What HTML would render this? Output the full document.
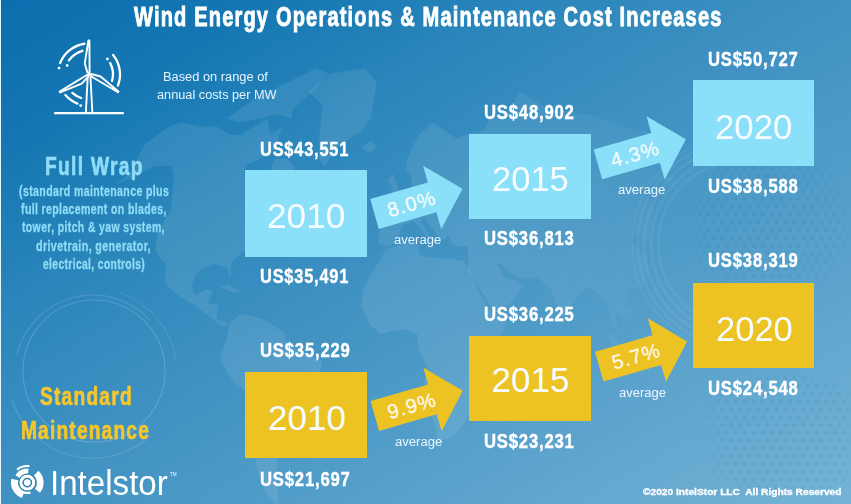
<!DOCTYPE html>
<html><head><meta charset="utf-8"><title>Wind Energy O&amp;M Cost Increases</title>
<style>
html,body{margin:0;padding:0;}
body{width:851px;height:504px;overflow:hidden;font-family:"Liberation Sans",sans-serif;background:#4092c2;}
#c{position:relative;width:851px;height:504px;overflow:hidden;
background:linear-gradient(to bottom right,#0b6eae 0%,#1476b2 15%,#2985ba 30%,#4092c2 50%,#74b3d6 100%);}
.edge{position:absolute;left:0;top:0;width:1px;height:504px;background:#e8f6ff;}
.b{position:absolute;}
.t{position:absolute;white-space:pre;transform-origin:0 50%;font-family:"Liberation Sans",sans-serif;}
svg{position:absolute;left:0;top:0;}
</style></head><body>
<div id="c">
<div class="edge"></div>
<svg width="851" height="504" viewBox="0 0 851 504"><defs><linearGradient id="mf" gradientUnits="userSpaceOnUse" x1="0" y1="0" x2="851" y2="0"><stop offset="0" stop-color="#fff" stop-opacity="1"/><stop offset="0.55" stop-color="#fff" stop-opacity="1"/><stop offset="0.74" stop-color="#fff" stop-opacity="0.45"/><stop offset="0.86" stop-color="#fff" stop-opacity="0"/><stop offset="1" stop-color="#fff" stop-opacity="0"/></linearGradient><mask id="mm" maskUnits="userSpaceOnUse" x="0" y="0" width="851" height="504"><rect width="851" height="504" fill="url(#mf)"/></mask></defs><g fill="#fff" fill-opacity="0.085" stroke="none" mask="url(#mm)"><polygon points="145.9,142.9 169.1,126.6 181.1,122.5 198.8,126.6 217.1,126.6 230.4,134.9 240.6,134.9 268.1,118.2 269.8,134.9 282.1,126.6 274.6,150.8 245.5,166.1 243.6,177.2 257.4,184.4 257.2,198.3 267.4,180.8 274.6,158.5 287.2,158.5 294.2,166.1 295.1,184.4 299.1,194.9 287.3,211.8 276.1,218.3 264.8,224.8 254.2,234.2 245.8,249.5 232.3,261.2 230.0,278.3 226.6,267.0 213.0,264.1 196.0,272.7 192.1,286.7 194.5,294.9 206.4,289.4 212.8,289.4 208.0,303.0 218.4,305.6 216.7,318.9 225.2,321.5 229.4,324.1 222.6,326.8 212.4,318.9 198.5,308.3 190.7,303.0 173.7,292.2 165.3,283.9 165.7,264.1 159.8,258.3 155.6,249.5 157.1,234.2 171.1,208.5 172.9,187.9 173.9,173.5 170.9,166.1 154.7,166.1 132.8,177.2 115.2,184.4 135.4,169.8 136.9,158.5"/><polygon points="227.1,118.2 251.7,100.9 286.6,82.7 316.0,68.6 328.6,73.4 312.4,91.9 292.4,109.6 291.3,118.2 277.0,114.0 261.3,118.2 238.1,122.5"/><polygon points="308.7,91.9 330.8,73.4 365.2,68.6 376.9,82.7 370.7,118.2 362.1,130.8 337.1,146.9 325.0,166.1 318.9,158.5 319.3,134.9 322.8,105.3"/><polygon points="229.4,324.1 241.3,313.6 262.6,318.9 283.8,332.0 288.0,345.0 301.2,350.2 321.2,360.6 321.5,368.5 313.6,384.4 311.0,403.3 297.6,414.5 290.7,434.6 283.9,449.6 276.4,458.9 277.1,474.9 277.9,495.1 278.0,505.6 267.3,495.1 257.4,471.7 253.4,446.6 252.1,425.9 247.6,392.4 233.2,381.7 220.3,360.6 222.1,350.2 226.5,339.8"/><polygon points="361.2,305.6 364.0,286.7 377.4,264.1 386.0,249.5 403.9,243.4 417.8,243.4 420.3,255.4 438.7,258.3 448.9,258.3 463.5,261.2 470.6,269.9 479.2,292.2 491.6,313.6 509.0,313.6 503.4,332.0 490.4,350.2 483.5,363.2 484.6,384.4 471.8,408.9 464.1,423.0 452.4,437.6 438.1,440.5 435.0,425.9 427.7,403.3 424.0,384.4 426.5,365.9 417.8,347.6 417.8,334.6 404.6,329.4 389.2,332.0 380.4,334.6 369.5,324.1"/><polygon points="378.2,243.4 380.9,224.8 394.2,221.6 388.9,208.5 401.6,198.3 411.9,187.9 411.4,177.2 406.2,169.8 407.5,158.5 418.4,134.9 432.8,122.5 457.2,138.9 463.6,134.9 484.1,130.8 492.1,114.0 505.5,114.0 520.3,91.9 549.9,109.6 586.2,114.0 624.1,126.6 660.3,134.9 671.9,146.9 673.7,166.1 668.5,173.5 680.5,194.9 659.8,177.2 643.9,187.9 654.2,208.5 653.0,221.6 647.2,227.9 653.0,246.5 646.0,240.4 635.1,234.2 630.2,240.4 646.3,258.3 649.0,275.5 639.9,286.7 628.0,289.4 626.8,303.0 635.3,313.6 627.6,321.5 615.3,311.0 617.2,326.8 624.5,339.8 612.6,324.1 607.4,303.0 596.6,292.2 589.0,286.7 581.7,292.2 571.1,305.6 568.8,324.1 555.6,303.0 551.3,289.4 538.7,278.3 519.8,278.3 505.9,269.9 500.8,264.1 496.7,264.1 505.1,278.3 516.0,281.1 523.2,286.7 510.3,303.0 493.8,313.6 488.7,303.0 478.6,286.7 468.5,269.9 467.7,246.5 457.8,246.5 451.5,243.4 448.5,234.2 443.3,240.4 436.9,234.2 424.2,218.3 420.7,221.6 429.1,234.2 429.5,240.4 421.0,227.9 413.1,221.6 403.7,224.8 398.0,237.3 394.0,243.4 386.0,246.5"/><polygon points="389.0,201.8 399.8,198.3 398.0,187.9 393.0,173.5 387.8,180.8 392.8,187.9"/><polygon points="361.5,146.9 371.2,140.9 376.7,146.9 368.5,152.8"/><polygon points="490.4,411.7 497.1,408.9 506.2,384.4 504.7,376.4 492.8,389.7 489.3,403.3"/><polygon points="637.8,342.4 646.4,352.8 655.2,352.8 657.5,339.8 654.7,329.4 646.3,334.6"/><polygon points="606.6,332.0 617.9,339.8 628.6,358.0 622.1,355.4 611.4,342.4"/><polygon points="219.7,286.7 228.8,283.9 240.0,292.2 231.4,292.2"/></g><defs><pattern id="dp" width="9" height="15.6" patternUnits="userSpaceOnUse"><circle cx="2.25" cy="3.9" r="2.1" fill="#0a4f8a"/><circle cx="6.75" cy="11.7" r="2.1" fill="#0a4f8a"/></pattern>
<radialGradient id="dg1" gradientUnits="userSpaceOnUse" cx="785" cy="435" r="100"><stop offset="0" stop-color="#fff" stop-opacity="1"/><stop offset="0.6" stop-color="#fff" stop-opacity="0.8"/><stop offset="1" stop-color="#fff" stop-opacity="0"/></radialGradient>
<radialGradient id="dg2" gradientUnits="userSpaceOnUse" cx="770" cy="225" r="95"><stop offset="0" stop-color="#fff" stop-opacity="1"/><stop offset="0.7" stop-color="#fff" stop-opacity="0.8"/><stop offset="1" stop-color="#fff" stop-opacity="0"/></radialGradient>
<mask id="dm" maskUnits="userSpaceOnUse" x="0" y="0" width="851" height="504"><ellipse cx="785" cy="435" rx="100" ry="60" fill="url(#dg1)"/><circle cx="770" cy="225" r="82" fill="url(#dg2)"/></mask></defs>
<rect x="600" y="100" width="251" height="404" fill="url(#dp)" style="fill:url(#dp)" fill-opacity="1" mask="url(#dm)" opacity="0.09" color="#0a4f8a"/>
<g fill="none" stroke="#fff">
<circle cx="94" cy="371" r="71" stroke-opacity="0.16" stroke-width="1.2"/>
<path d="M16.8,355 A78,78 0 0 1 150,320" stroke-opacity="0.13" stroke-width="1.2"/>
<path d="M150,436 A85,85 0 0 1 12,400" stroke-opacity="0.13" stroke-width="1.2"/>
<path d="M176,360 A84,84 0 0 0 120,293" stroke-opacity="0.10" stroke-width="1.2"/>
<path d="M726.6,325.7A83,83 0 0 1 726.6,162.3" stroke-opacity="0.055" stroke-width="3"/>
<path d="M725.4,332.6A90,90 0 0 1 725.4,155.4" stroke-opacity="0.055" stroke-width="3"/>
<path d="M724.2,339.5A97,97 0 0 1 724.2,148.5" stroke-opacity="0.055" stroke-width="3"/>
<path d="M723.0,345.9A103.5,103.5 0 0 1 723.0,142.1" stroke-opacity="0.055" stroke-width="2.5"/>
<path d="M722.2,350.9A108.5,108.5 0 0 1 722.2,137.1" stroke-opacity="0.055" stroke-width="1.5"/>
</g></svg>
<div class="b" style="left:244.8px;top:169.8px;width:122.3px;height:86.9px;background:#89e0f8"></div>
<div class="b" style="left:468.5px;top:133.8px;width:122.3px;height:85px;background:#89e0f8"></div>
<div class="b" style="left:692.5px;top:80px;width:121.5px;height:86px;background:#89e0f8"></div>
<div class="b" style="left:244.8px;top:372px;width:122.3px;height:85.5px;background:#ecc323"></div>
<div class="b" style="left:469px;top:335.5px;width:122px;height:85px;background:#ecc323"></div>
<div class="b" style="left:693px;top:283px;width:121px;height:85px;background:#ecc323"></div>
<svg width="851" height="504" viewBox="0 0 851 504">
<g transform="translate(374.5,214) rotate(-16)"><polygon points="0,-15.5 60,-15.5 60,-33 91.5,0 60,33 60,15.5 0,15.5" fill="#89e0f8"/><text x="38.5" y="7.2" text-anchor="middle" font-family="Liberation Sans, sans-serif" font-size="20" fill="#ffffff" fill-opacity="0.88" stroke="#ffffff" stroke-opacity="0.88" stroke-width="0.35" letter-spacing="1.1">8.0%</text></g>
<g transform="translate(597.9,164.4) rotate(-16)"><polygon points="0,-15.5 60,-15.5 60,-33 91.5,0 60,33 60,15.5 0,15.5" fill="#89e0f8"/><text x="38.5" y="7.2" text-anchor="middle" font-family="Liberation Sans, sans-serif" font-size="20" fill="#ffffff" fill-opacity="0.88" stroke="#ffffff" stroke-opacity="0.88" stroke-width="0.35" letter-spacing="1.1">4.3%</text></g>
<g transform="translate(374.8,416) rotate(-16)"><polygon points="0,-15.5 60,-15.5 60,-33 91.5,0 60,33 60,15.5 0,15.5" fill="#ecc323"/><text x="38.5" y="7.2" text-anchor="middle" font-family="Liberation Sans, sans-serif" font-size="20" fill="#ffffff" fill-opacity="0.88" stroke="#ffffff" stroke-opacity="0.88" stroke-width="0.35" letter-spacing="1.1">9.9%</text></g>
<g transform="translate(599.2,366.6) rotate(-16)"><polygon points="0,-15.5 60,-15.5 60,-33 91.5,0 60,33 60,15.5 0,15.5" fill="#ecc323"/><text x="38.5" y="7.2" text-anchor="middle" font-family="Liberation Sans, sans-serif" font-size="20" fill="#ffffff" fill-opacity="0.88" stroke="#ffffff" stroke-opacity="0.88" stroke-width="0.35" letter-spacing="1.1">5.7%</text></g>
<g fill="none" stroke="#fff" stroke-width="2.3" stroke-linecap="round" stroke-linejoin="round">
<path d="M60.16,63.04A31,31 0 0 1 84.42,43.74 M68.93,60.35A24.5,24.5 0 0 1 82.45,50.79 M113.16,54.98A31,31 0 0 1 117.94,85.51 M110.19,63.13A24,24 0 0 1 112.09,80.93 M77.44,103.59A31.4,31.4 0 0 1 65.37,95.08 M81.10,98.01A24.9,24.9 0 0 1 72.34,92.90"/>
<path d="M59.07,68.04h0.01" stroke-width="2.8"/>
<path d="M67.15,65.48h0.01" stroke-width="2.8"/>
<path d="M107.41,59.01h0.01" stroke-width="2.8"/>
<path d="M80.64,105.60h0.01" stroke-width="2.8"/>
</g>
<g fill="none" stroke="#fff" stroke-width="1.9" stroke-linejoin="round" stroke-linecap="round">
<path d="M87.7,77.5L85.9,112 M90.5,77.5L92.3,112"/>
<polygon points="89.60,72.20 89.40,40.40 88.40,40.40 84.80,63.40 87.40,72.60"/>
<polygon points="90.58,76.05 117.94,92.25 118.45,91.40 100.59,76.47 91.37,73.96"/>
<polygon points="86.81,75.02 59.65,91.57 60.17,92.43 81.73,83.67 88.28,76.70"/>
</g>
<path d="M54.2,113.2H123.8" stroke="#fff" stroke-width="2.3" fill="none"/>
<circle cx="89" cy="74.4" r="1.6" fill="#fff"/>
<g fill="none" stroke="#fff">
<path d="M23.13,494.70A12.8,12.8 0 0 1 14.88,479.50" stroke-width="7"/>
<path d="M36.17,473.09A13,13 0 0 1 37.40,490.78" stroke-width="6.6"/>
<path d="M17.63,476.56A11.4,11.4 0 0 1 28.29,471.24" stroke-width="5.2"/>
<path d="M17.08,469.52A16.6,16.6 0 0 1 29.32,466.12" stroke-width="2.2"/>
<path d="M30.45,492.30A10.2,10.2 0 0 1 23.48,492.06" stroke-width="2.4"/>
<circle cx="27.3" cy="482.6" r="6.4" stroke-width="3.2"/>
</g>
<circle cx="27.3" cy="482.6" r="3.3" fill="#fff"/>
<circle cx="27.3" cy="482.6" r="4.3" fill="none" stroke="#2c7f9e" stroke-width="0.9"/>
<circle cx="27.3" cy="482.6" r="8.6" fill="none" stroke="#2c7f9e" stroke-width="0.9"/>
</svg>
<div class="t" style="left:134.1px;top:3.0px;font-size:27.5px;line-height:27.5px;font-weight:700;color:#ffffff;transform:scaleX(0.7291);letter-spacing:1.6px;-webkit-text-stroke:0.9px #fff;">Wind Energy Operations &amp; Maintenance Cost Increases</div>
<div class="t" style="left:162.5px;top:70.6px;font-size:12.5px;line-height:12.5px;font-weight:400;color:#e6f4ff;transform:scaleX(1.0265);">Based on range of</div>
<div class="t" style="left:156.5px;top:88.6px;font-size:12.5px;line-height:12.5px;font-weight:400;color:#e6f4ff;transform:scaleX(1.0188);">annual costs per MW</div>
<div class="t" style="left:44.9px;top:152.8px;font-size:26.5px;line-height:26.5px;font-weight:700;color:#8fdcf6;transform:scaleX(0.7248);letter-spacing:1.8px;-webkit-text-stroke:0.7px #8fdcf6;">Full Wrap</div>
<div class="t" style="left:18.8px;top:184.4px;font-size:14px;line-height:14px;font-weight:700;color:#8fdcf6;transform:scaleX(0.7551);letter-spacing:0.5px;-webkit-text-stroke:0.3px #8fdcf6;">(standard maintenance plus</div>
<div class="t" style="left:20.9px;top:202.4px;font-size:14px;line-height:14px;font-weight:700;color:#8fdcf6;transform:scaleX(0.7518);letter-spacing:0.5px;-webkit-text-stroke:0.3px #8fdcf6;">full replacement on blades,</div>
<div class="t" style="left:22.0px;top:220.4px;font-size:14px;line-height:14px;font-weight:700;color:#8fdcf6;transform:scaleX(0.7474);letter-spacing:0.5px;-webkit-text-stroke:0.3px #8fdcf6;">tower, pitch &amp; yaw system,</div>
<div class="t" style="left:35.5px;top:238.7px;font-size:14px;line-height:14px;font-weight:700;color:#8fdcf6;transform:scaleX(0.7651);letter-spacing:0.5px;-webkit-text-stroke:0.3px #8fdcf6;">drivetrain, generator,</div>
<div class="t" style="left:42.5px;top:256.7px;font-size:14px;line-height:14px;font-weight:700;color:#8fdcf6;transform:scaleX(0.7355);letter-spacing:0.5px;-webkit-text-stroke:0.3px #8fdcf6;">electrical, controls)</div>
<div class="t" style="left:39.7px;top:384.4px;font-size:25.5px;line-height:25.5px;font-weight:700;color:#f6c62d;transform:scaleX(0.7529);letter-spacing:1.6px;-webkit-text-stroke:0.7px #f6c62d;">Standard</div>
<div class="t" style="left:21.3px;top:418.4px;font-size:25.5px;line-height:25.5px;font-weight:700;color:#f6c62d;transform:scaleX(0.7497);letter-spacing:1.6px;-webkit-text-stroke:0.7px #f6c62d;">Maintenance</div>
<div class="t" style="left:50.2px;top:464.5px;font-size:35px;line-height:35px;font-weight:400;color:#ffffff;transform:scaleX(0.9463);">Intelstor</div>
<div class="t" style="left:169.5px;top:471.8px;font-size:5px;line-height:5px;font-weight:400;color:#ffffff;transform:scaleX(0.9286);">TM</div>
<div class="t" style="left:642.5px;top:487.6px;font-size:9.2px;line-height:9.2px;font-weight:700;color:#ffffff;transform:scaleX(1.1089);-webkit-text-stroke:0.3px #fff;">©2020 IntelStor LLC  All Rights Reserved</div>
<div class="t" style="left:260.2px;top:137.9px;font-size:21px;line-height:21px;font-weight:700;color:#ffffff;transform:scaleX(0.7812);letter-spacing:1px;-webkit-text-stroke:0.4px #fff;">US$43,551</div>
<div class="t" style="left:260.2px;top:265.4px;font-size:21px;line-height:21px;font-weight:700;color:#ffffff;transform:scaleX(0.7812);letter-spacing:1px;-webkit-text-stroke:0.4px #fff;">US$35,491</div>
<div class="t" style="left:484.2px;top:100.9px;font-size:21px;line-height:21px;font-weight:700;color:#ffffff;transform:scaleX(0.7946);letter-spacing:1px;-webkit-text-stroke:0.4px #fff;">US$48,902</div>
<div class="t" style="left:484.2px;top:227.4px;font-size:21px;line-height:21px;font-weight:700;color:#ffffff;transform:scaleX(0.7946);letter-spacing:1px;-webkit-text-stroke:0.4px #fff;">US$36,813</div>
<div class="t" style="left:707.7px;top:47.9px;font-size:21px;line-height:21px;font-weight:700;color:#ffffff;transform:scaleX(0.7946);letter-spacing:1px;-webkit-text-stroke:0.4px #fff;">US$50,727</div>
<div class="t" style="left:707.7px;top:175.4px;font-size:21px;line-height:21px;font-weight:700;color:#ffffff;transform:scaleX(0.7946);letter-spacing:1px;-webkit-text-stroke:0.4px #fff;">US$38,588</div>
<div class="t" style="left:260.2px;top:339.4px;font-size:21px;line-height:21px;font-weight:700;color:#ffffff;transform:scaleX(0.7946);letter-spacing:1px;-webkit-text-stroke:0.4px #fff;">US$35,229</div>
<div class="t" style="left:260.2px;top:467.9px;font-size:21px;line-height:21px;font-weight:700;color:#ffffff;transform:scaleX(0.7946);letter-spacing:1px;-webkit-text-stroke:0.4px #fff;">US$21,697</div>
<div class="t" style="left:484.2px;top:302.9px;font-size:21px;line-height:21px;font-weight:700;color:#ffffff;transform:scaleX(0.7946);letter-spacing:1px;-webkit-text-stroke:0.4px #fff;">US$36,225</div>
<div class="t" style="left:484.2px;top:430.4px;font-size:21px;line-height:21px;font-weight:700;color:#ffffff;transform:scaleX(0.7946);letter-spacing:1px;-webkit-text-stroke:0.4px #fff;">US$23,231</div>
<div class="t" style="left:707.7px;top:249.4px;font-size:21px;line-height:21px;font-weight:700;color:#ffffff;transform:scaleX(0.7946);letter-spacing:1px;-webkit-text-stroke:0.4px #fff;">US$38,319</div>
<div class="t" style="left:707.7px;top:377.4px;font-size:21px;line-height:21px;font-weight:700;color:#ffffff;transform:scaleX(0.7946);letter-spacing:1px;-webkit-text-stroke:0.4px #fff;">US$24,548</div>
<div class="t" style="left:266.6px;top:198.3px;font-size:35px;line-height:35px;font-weight:400;color:#f6fcff;transform:scaleX(1.0053);">2010</div>
<div class="t" style="left:491.5px;top:161.1px;font-size:35px;line-height:35px;font-weight:400;color:#f6fcff;transform:scaleX(0.9867);">2015</div>
<div class="t" style="left:714.5px;top:108.6px;font-size:35px;line-height:35px;font-weight:400;color:#f6fcff;transform:scaleX(0.9933);">2020</div>
<div class="t" style="left:268.0px;top:399.6px;font-size:35px;line-height:35px;font-weight:400;color:#f6fcff;transform:scaleX(1.0000);">2010</div>
<div class="t" style="left:491.5px;top:362.1px;font-size:35px;line-height:35px;font-weight:400;color:#f6fcff;transform:scaleX(1.0000);">2015</div>
<div class="t" style="left:715.5px;top:310.6px;font-size:35px;line-height:35px;font-weight:400;color:#f6fcff;transform:scaleX(0.9867);">2020</div>
<div class="t" style="left:393.8px;top:234.3px;font-size:12px;line-height:12px;font-weight:400;color:#eaf6ff;transform:scaleX(1.0907);">average</div>
<div class="t" style="left:617.7px;top:183.7px;font-size:12px;line-height:12px;font-weight:400;color:#eaf6ff;transform:scaleX(1.0907);">average</div>
<div class="t" style="left:394.9px;top:436.1px;font-size:12px;line-height:12px;font-weight:400;color:#eaf6ff;transform:scaleX(1.0907);">average</div>
<div class="t" style="left:618.8px;top:386.5px;font-size:12px;line-height:12px;font-weight:400;color:#eaf6ff;transform:scaleX(1.0814);">average</div>
</div>
</body></html>
